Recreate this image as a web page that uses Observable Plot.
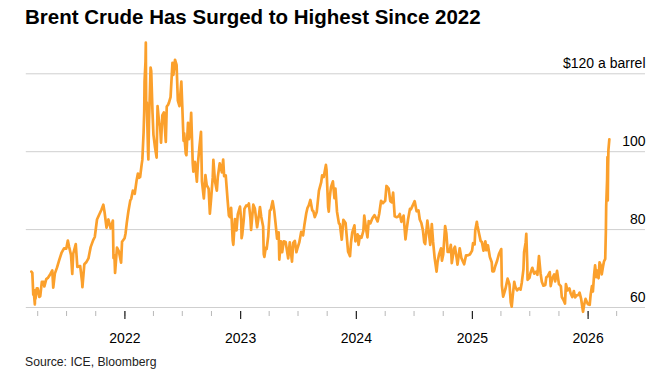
<!DOCTYPE html>
<html>
<head>
<meta charset="utf-8">
<script src="https://cdn.jsdelivr.net/npm/d3@7"></script>
<script src="https://cdn.jsdelivr.net/npm/@observablehq/plot@0.6"></script>
<style>
  html, body { margin: 0; padding: 0; background: #fff; }
  body { width: 671px; height: 381px; position: relative; overflow: hidden; font-family: "Liberation Sans", Arial, sans-serif; }
  #title { position: absolute; left: 25px; top: 6.6px; font-size: 20.5px; line-height: 20.5px; font-weight: bold; color: #000; white-space: nowrap; }
  #chart { position: absolute; left: 0; top: 36px; }
  #source { position: absolute; left: 25px; top: 355.7px; font-size: 12.2px; line-height: 12.2px; color: #222; white-space: nowrap; }
</style>
</head>
<body>
<div id="title">Brent Crude Has Surged to Highest Since 2022</div>
<div id="chart"></div>
<div id="source">Source: ICE, Bloomberg</div>
<script>
const dates = [
"2021-03-12","2021-03-15","2021-03-18","2021-03-19","2021-03-23","2021-03-24","2021-03-25","2021-03-29","2021-04-01","2021-04-06","2021-04-09","2021-04-14","2021-04-20","2021-04-22","2021-04-28","2021-05-03","2021-05-11","2021-05-17","2021-05-20","2021-05-25","2021-06-01","2021-06-08","2021-06-15","2021-06-23","2021-06-30","2021-07-05","2021-07-09","2021-07-15","2021-07-19","2021-07-22","2021-07-30","2021-08-04","2021-08-10","2021-08-13","2021-08-19","2021-08-20","2021-08-26","2021-09-01","2021-09-08","2021-09-15","2021-09-23","2021-09-28","2021-10-05","2021-10-11","2021-10-19","2021-10-25","2021-10-29","2021-11-04","2021-11-10","2021-11-17","2021-11-24","2021-11-26","2021-11-29","2021-12-01","2021-12-07","2021-12-13","2021-12-20","2021-12-23","2021-12-31",
"2022-01-03","2022-01-07","2022-01-12","2022-01-18","2022-01-21","2022-01-26","2022-02-01","2022-02-07","2022-02-11","2022-02-15","2022-02-18","2022-02-23","2022-02-25","2022-03-01","2022-03-03","2022-03-04","2022-03-07","2022-03-08","2022-03-09","2022-03-11","2022-03-15","2022-03-16","2022-03-18","2022-03-21","2022-03-23","2022-03-25","2022-03-29","2022-04-01","2022-04-06","2022-04-11","2022-04-14","2022-04-19","2022-04-22","2022-04-25","2022-04-29","2022-05-04","2022-05-10","2022-05-13","2022-05-17","2022-05-20","2022-05-25","2022-05-31","2022-06-03","2022-06-08","2022-06-13","2022-06-17","2022-06-22","2022-06-28","2022-07-01","2022-07-05","2022-07-07","2022-07-12","2022-07-14","2022-07-19","2022-07-22","2022-07-27","2022-07-29","2022-08-03","2022-08-05","2022-08-10","2022-08-16","2022-08-19","2022-08-24","2022-08-29","2022-09-01","2022-09-07","2022-09-12","2022-09-16","2022-09-22","2022-09-26","2022-09-30","2022-10-05","2022-10-07","2022-10-12","2022-10-18","2022-10-21","2022-10-27","2022-11-03","2022-11-07","2022-11-10","2022-11-15","2022-11-21","2022-11-25","2022-11-28","2022-12-02","2022-12-07","2022-12-09","2022-12-14","2022-12-19","2022-12-23","2022-12-30",
"2023-01-03","2023-01-04","2023-01-06","2023-01-11","2023-01-13","2023-01-19","2023-01-24","2023-01-27","2023-02-01","2023-02-03","2023-02-07","2023-02-10","2023-02-15","2023-02-22","2023-02-28","2023-03-03","2023-03-07","2023-03-13","2023-03-15","2023-03-17","2023-03-21","2023-03-24","2023-03-29","2023-04-03","2023-04-06","2023-04-12","2023-04-17","2023-04-21","2023-04-26","2023-05-01","2023-05-03","2023-05-08","2023-05-12","2023-05-17","2023-05-23","2023-05-31","2023-06-05","2023-06-12","2023-06-16","2023-06-21","2023-06-26","2023-06-30","2023-07-05","2023-07-11","2023-07-17","2023-07-21","2023-07-27","2023-07-31","2023-08-04","2023-08-09","2023-08-15","2023-08-18","2023-08-23","2023-08-29","2023-09-05","2023-09-12","2023-09-15","2023-09-20","2023-09-27","2023-09-29","2023-10-04","2023-10-06","2023-10-09","2023-10-13","2023-10-19","2023-10-24","2023-10-27","2023-11-01","2023-11-07","2023-11-10","2023-11-16","2023-11-21","2023-11-28","2023-12-01","2023-12-06","2023-12-12","2023-12-15","2023-12-19","2023-12-26","2023-12-29",
"2024-01-03","2024-01-05","2024-01-08","2024-01-12","2024-01-17","2024-01-23","2024-01-26","2024-01-31","2024-02-05","2024-02-09","2024-02-14","2024-02-21","2024-02-27","2024-03-04","2024-03-08","2024-03-13","2024-03-19","2024-03-25","2024-04-01","2024-04-05","2024-04-12","2024-04-17","2024-04-22","2024-04-26","2024-05-01","2024-05-07","2024-05-13","2024-05-17","2024-05-22","2024-05-29","2024-06-04","2024-06-07","2024-06-12","2024-06-18","2024-06-21","2024-06-28","2024-07-03","2024-07-09","2024-07-15","2024-07-19","2024-07-24","2024-07-29","2024-08-02","2024-08-05","2024-08-12","2024-08-16","2024-08-21","2024-08-26","2024-08-30","2024-09-04","2024-09-10","2024-09-13","2024-09-18","2024-09-24","2024-09-27","2024-10-01","2024-10-07","2024-10-11","2024-10-15","2024-10-21","2024-10-25","2024-10-28","2024-11-04","2024-11-07","2024-11-13","2024-11-15","2024-11-22","2024-11-27","2024-12-02","2024-12-06","2024-12-12","2024-12-18","2024-12-24","2024-12-31",
"2025-01-03","2025-01-08","2025-01-10","2025-01-15","2025-01-17","2025-01-22","2025-01-27","2025-01-31","2025-02-05","2025-02-11","2025-02-14","2025-02-19","2025-02-25","2025-03-03","2025-03-05","2025-03-10","2025-03-14","2025-03-20","2025-03-26","2025-04-02","2025-04-04","2025-04-08","2025-04-10","2025-04-15","2025-04-22","2025-04-28","2025-05-02","2025-05-05","2025-05-08","2025-05-13","2025-05-16","2025-05-22","2025-05-28","2025-06-02","2025-06-06","2025-06-11","2025-06-13","2025-06-18","2025-06-20","2025-06-23","2025-06-24","2025-06-30","2025-07-03","2025-07-09","2025-07-15","2025-07-21","2025-07-25","2025-07-30","2025-08-04","2025-08-08","2025-08-13","2025-08-19","2025-08-22","2025-08-27","2025-09-02","2025-09-05","2025-09-10","2025-09-16","2025-09-19","2025-09-25","2025-10-01","2025-10-07","2025-10-10","2025-10-15","2025-10-20","2025-10-23","2025-10-28","2025-11-03","2025-11-07","2025-11-12","2025-11-17","2025-11-21","2025-11-26","2025-12-01","2025-12-05","2025-12-10","2025-12-16","2025-12-19","2025-12-24","2025-12-31",
"2026-01-02","2026-01-06","2026-01-09","2026-01-13","2026-01-16","2026-01-20","2026-01-23","2026-01-27","2026-01-30","2026-02-03","2026-02-06","2026-02-10","2026-02-13","2026-02-17","2026-02-20","2026-02-24","2026-02-26","2026-02-27","2026-03-02","2026-03-03","2026-03-04","2026-03-05","2026-03-06","2026-03-09"
];
const prices = [
69.2,68.9,63.3,64.5,60.8,64.4,62.2,64.9,64.9,62.7,62.9,66.6,66.6,65.4,67.3,67.6,68.6,69.5,65.1,68.7,70.3,72.2,74.0,75.2,75.1,77.2,75.6,73.5,68.6,73.8,76.3,70.4,70.6,70.6,66.5,65.2,71.1,71.6,72.6,75.5,77.3,78.1,82.6,83.7,85.1,86.4,84.4,80.5,82.6,80.3,82.3,72.7,73.4,68.9,75.4,74.4,71.5,76.9,77.8,
79.0,81.8,84.7,87.5,87.9,90.0,89.2,92.7,94.4,93.3,93.5,96.8,97.9,105.0,110.5,118.1,123.2,128.0,111.1,112.7,99.9,98.0,107.9,115.6,121.6,120.7,110.2,104.4,101.1,98.5,111.7,107.3,106.7,102.3,109.3,110.1,102.5,111.6,112.0,112.6,114.0,122.8,119.7,123.6,122.3,113.1,111.7,118.0,111.6,102.8,104.7,99.5,99.1,107.4,103.2,106.6,110.0,97.0,94.9,97.4,92.3,96.7,101.2,105.1,92.4,88.0,94.0,91.4,90.5,84.1,88.0,93.4,97.9,92.5,90.0,93.5,97.0,94.7,98.0,93.7,93.9,87.5,83.6,83.2,85.6,77.2,76.1,82.7,79.8,83.9,85.9,
82.1,77.8,78.6,82.7,85.3,86.2,86.1,86.7,82.8,79.9,83.7,86.4,85.4,80.6,83.9,85.8,83.3,80.8,73.7,73.0,75.3,75.0,78.3,84.9,85.1,87.3,84.8,81.7,77.7,79.3,72.3,77.0,74.2,77.0,76.8,72.6,76.7,71.8,76.6,77.1,74.2,75.4,76.7,79.4,78.5,81.1,84.2,85.6,86.2,87.6,84.9,84.8,83.2,84.5,90.0,92.1,93.9,93.5,96.6,95.3,85.8,84.6,88.2,90.9,92.4,88.1,90.5,84.6,81.6,81.4,77.4,82.5,81.7,78.9,74.3,73.2,76.6,79.2,81.1,77.0,
78.3,78.8,76.1,78.3,77.9,79.6,83.6,80.6,78.0,82.2,81.6,83.0,83.7,82.8,82.1,84.0,87.4,86.8,87.4,91.2,90.5,87.3,87.0,89.5,83.4,83.2,83.4,84.0,82.0,83.6,77.5,79.6,82.6,85.3,85.2,86.4,87.3,84.7,84.9,82.6,81.7,79.8,76.8,76.3,82.3,79.7,76.1,81.4,76.9,72.7,69.2,71.6,73.7,75.2,72.0,73.6,80.9,79.0,74.3,74.3,76.1,71.4,75.1,75.6,72.3,71.0,75.2,72.8,71.8,71.1,73.4,73.4,73.6,74.6,
76.5,76.2,79.8,82.0,81.0,79.0,77.1,76.8,74.6,77.0,74.7,76.0,73.0,71.6,69.3,69.3,70.6,72.0,73.8,75.0,65.6,62.8,63.3,64.7,67.4,65.9,61.3,60.2,62.8,66.6,65.4,64.4,64.9,64.6,66.5,69.8,74.2,76.7,78.9,71.5,67.1,67.6,68.8,70.2,68.7,69.2,68.4,73.2,68.8,66.6,65.6,65.8,67.7,68.1,69.1,65.5,67.5,68.5,66.7,69.4,66.0,65.5,62.7,62.0,61.0,66.0,64.4,64.9,63.6,62.7,64.2,62.6,63.1,63.2,63.8,62.2,58.9,60.5,62.2,60.9,
60.8,60.7,63.3,65.5,64.1,68.5,70.8,67.8,69.5,67.5,71.6,70.8,68.5,70.5,71.8,72.5,79.5,86.0,93.0,98.6,87.5,96.0,100.4,103.2
];

const yTicks = [60, 80, 100, 120];
const yLabels = ["60", "80", "100", "$120 a barrel"];
const yearTicks = ["2022-01-01","2023-01-01","2024-01-01","2025-01-01","2026-01-01"];
const xDomain = ["2021-02-24", "2026-07-01"];

const parse = d3.utcParse("%Y-%m-%d");
const rows = dates.map((d, i) => ({date: parse(d), price: prices[i]}));
const domain = xDomain.map(parse);
const years = yearTicks.map(parse);
const quarters = d3.utcMonth.every(3).range(domain[0], domain[1]);

const H = 314;
const chart = Plot.plot({
  width: 671,
  height: H,
  marginLeft: 25.8,
  marginRight: 26,
  marginTop: 37.3,
  marginBottom: H - 275,
  x: {type: "utc", domain, axis: null},
  y: {domain: [60, 120], range: [271, 37.3], axis: null},
  style: {fontFamily: "'Liberation Sans', Arial, sans-serif", fontSize: "14px", color: "#000", background: "#fff"},
  marks: [
    Plot.ruleY(yTicks, {y: d => d, stroke: "#cfcfcf", strokeWidth: 1}),
    Plot.axisX({ticks: quarters, tickSize: 5, tickFormat: () => "", stroke: "#b8b8b8"}),
    Plot.axisX({ticks: years, tickSize: 8, tickPadding: 14, tickFormat: d3.utcFormat("%Y"), stroke: "#222", fill: "#000", fontSize: 14, strokeWidth: 1.2}),
    Plot.lineY(rows, {x: "date", y: "price", stroke: "#fba02c", strokeWidth: 2.7, strokeLinejoin: "round"}),
    Plot.text(yTicks, {y: d => d, text: (d, i) => yLabels[i], frameAnchor: "right", textAnchor: "end", lineAnchor: "bottom", dx: 0, dy: -6, fontSize: 14, fill: "#000"})
  ]
});
document.getElementById("chart").appendChild(chart);
</script>
</body>
</html>
